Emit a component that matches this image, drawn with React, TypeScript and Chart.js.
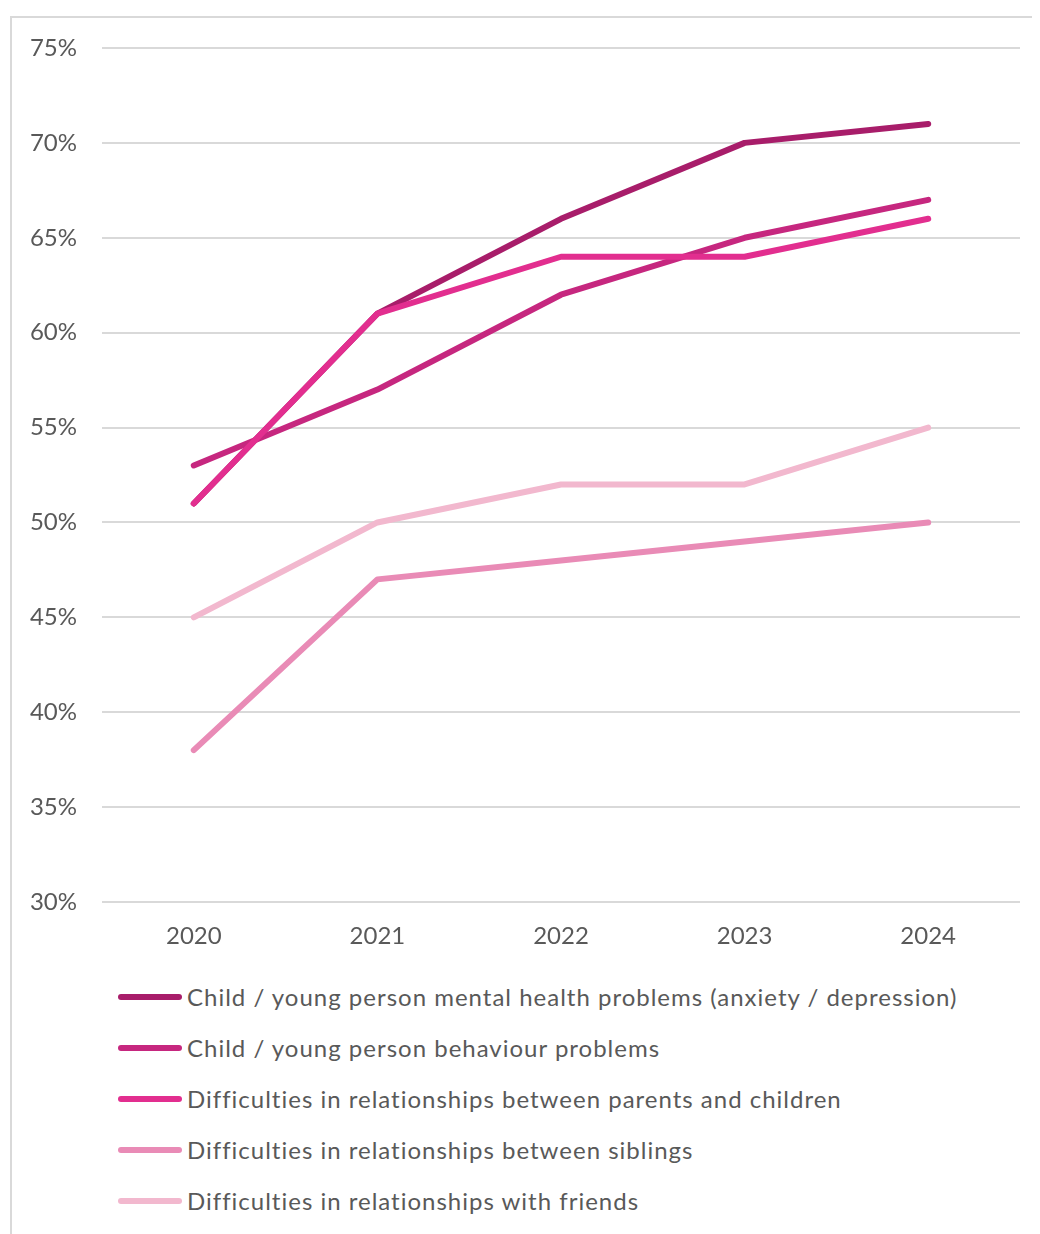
import React, { useEffect, useRef } from "react";
import { Chart, registerables } from "chart.js";

Chart.register(...registerables);

const years = ["2020", "2021", "2022", "2023", "2024"];
const seriesNames = [
  "Child / young person mental health problems (anxiety / depression)",
  "Child / young person behaviour problems",
  "Difficulties in relationships between parents and children",
  "Difficulties in relationships between siblings",
  "Difficulties in relationships with friends",
];
const mentalHealth = [51, 61, 66, 70, 71];
const behaviour = [53, 57, 62, 65, 67];
const parentsChildren = [51, 61, 64, 64, 66];
const siblings = [38, 47, 48, 49, 50];
const friends = [45, 50, 52, 52, 55];
const seriesValues = [mentalHealth, behaviour, parentsChildren, siblings, friends];
const colors = ["#A81D6A", "#C6277F", "#E22E8F", "#E98BB6", "#F2B8CE"];
const yMin = 30;
const yMax = 75;
const yStep = 5;

const FONT = "Lato, 'Open Sans', sans-serif";
const TEXT = "#595959";

export default function App() {
  const ref = useRef<HTMLCanvasElement | null>(null);
  useEffect(() => {
    if (!ref.current) return;
    const chart = new Chart(ref.current, {
      type: "line",
      data: {
        labels: years,
        datasets: seriesValues.map((vals, i) => ({
          label: seriesNames[i],
          data: vals,
          borderColor: colors[i],
          backgroundColor: colors[i],
          borderWidth: 6,
          borderCapStyle: "round" as const,
          borderJoinStyle: "round" as const,
          pointRadius: 0,
          pointHoverRadius: 0,
          tension: 0,
          order: seriesValues.length - i,
        })),
      },
      options: {
        animation: false,
        responsive: false,
        maintainAspectRatio: false,
        layout: { padding: { left: 0, right: 20, top: 40, bottom: 0 } },
        plugins: { legend: { display: false }, tooltip: { enabled: false } },
        scales: {
          x: {
            offset: true,
            grid: { display: false, drawTicks: false },
            border: { display: false },
            ticks: { color: TEXT, font: { family: FONT, size: 24 }, padding: 20 },
            afterFit: (s: any) => {
              s.height = 66;
            },
          },
          y: {
            min: yMin,
            max: yMax,
            grid: { color: "#D9D9D9", lineWidth: 2, drawTicks: false },
            border: { display: false },
            ticks: {
              stepSize: yStep,
              color: TEXT,
              font: { family: FONT, size: 24 },
              padding: 25,
              callback: (v: any) => v + "%",
            },
            afterFit: (s: any) => {
              s.width = 94;
            },
          },
        },
      },
    });
    return () => chart.destroy();
  }, []);

  return (
    <div style={{ position: "relative", width: 1032, height: 1226, overflow: "hidden" }}>
      <div
        style={{
          position: "absolute",
          left: 2,
          top: 8,
          width: 1100,
          height: 1300,
          border: "2px solid #D9D9D9",
          boxSizing: "border-box",
        }}
      />
      <canvas
        ref={ref}
        width={1032}
        height={960}
        style={{ position: "absolute", left: 0, top: 0, width: 1032, height: 960 }}
      />
      <div style={{ position: "absolute", left: 110, top: 963 }}>
        {seriesNames.map((name, i) => (
          <div key={name} style={{ display: "flex", alignItems: "center", height: 51 }}>
            <span
              style={{
                display: "inline-block",
                width: 64,
                height: 6,
                borderRadius: 3,
                background: colors[i],
                marginRight: 5,
              }}
            />
            <span
              style={{
                fontFamily: FONT,
                fontSize: 24,
                color: TEXT,
                whiteSpace: "nowrap",
                letterSpacing: 1,
              }}
            >
              {name}
            </span>
          </div>
        ))}
      </div>
    </div>
  );
}
